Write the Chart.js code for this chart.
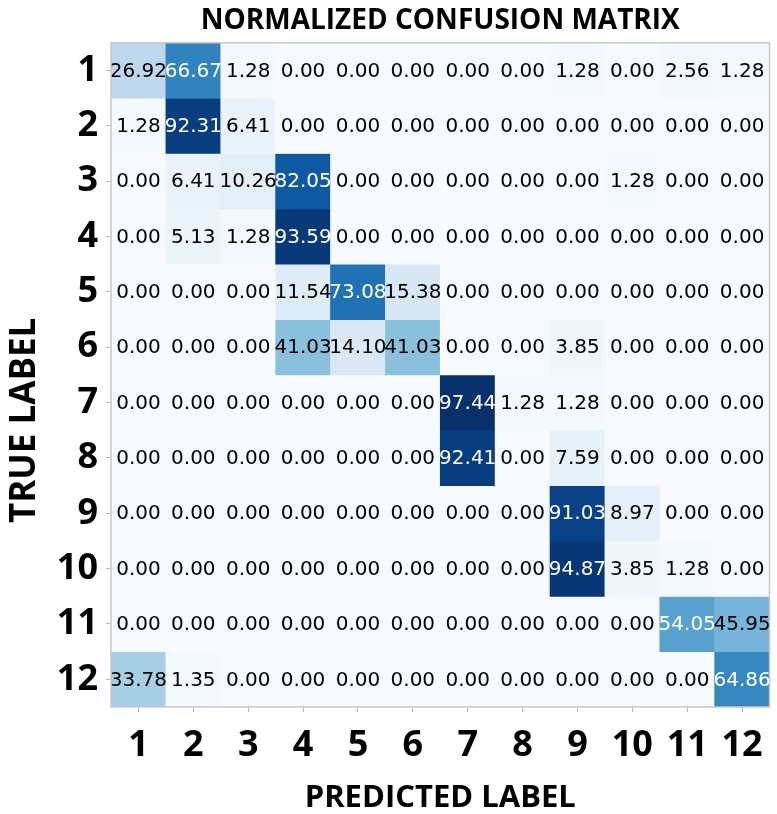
<!DOCTYPE html>
<html>
<head>
<meta charset="utf-8">
<script src="https://cdn.jsdelivr.net/npm/chart.js@4"></script>
<style>
  html, body { margin: 0; padding: 0; background: #fff; }
  #wrap { width: 777px; height: 814px; }
</style>
</head>
<body>
<div id="wrap"><canvas id="cm"></canvas></div>
<script>
// class labels
const predictedLabels = ['1', '2', '3', '4', '5', '6', '7', '8', '9', '10', '11', '12'];
const trueLabels = ['1', '2', '3', '4', '5', '6', '7', '8', '9', '10', '11', '12'];

// normalized confusion matrix (%), one row per true label
const row1  = [26.92, 66.67, 1.28, 0, 0, 0, 0, 0, 1.28, 0, 2.56, 1.28];
const row2  = [1.28, 92.31, 6.41, 0, 0, 0, 0, 0, 0, 0, 0, 0];
const row3  = [0, 6.41, 10.26, 82.05, 0, 0, 0, 0, 0, 1.28, 0, 0];
const row4  = [0, 5.13, 1.28, 93.59, 0, 0, 0, 0, 0, 0, 0, 0];
const row5  = [0, 0, 0, 11.54, 73.08, 15.38, 0, 0, 0, 0, 0, 0];
const row6  = [0, 0, 0, 41.03, 14.10, 41.03, 0, 0, 3.85, 0, 0, 0];
const row7  = [0, 0, 0, 0, 0, 0, 97.44, 1.28, 1.28, 0, 0, 0];
const row8  = [0, 0, 0, 0, 0, 0, 92.41, 0, 7.59, 0, 0, 0];
const row9  = [0, 0, 0, 0, 0, 0, 0, 0, 91.03, 8.97, 0, 0];
const row10 = [0, 0, 0, 0, 0, 0, 0, 0, 94.87, 3.85, 1.28, 0];
const row11 = [0, 0, 0, 0, 0, 0, 0, 0, 0, 0, 54.05, 45.95];
const row12 = [33.78, 1.35, 0, 0, 0, 0, 0, 0, 0, 0, 0, 64.86];
const rows = [row1, row2, row3, row4, row5, row6, row7, row8, row9, row10, row11, row12];

// matplotlib "Blues"
const blues = ['#f7fbff', '#deebf7', '#c6dbef', '#9ecae1', '#6baed6', '#4292c6', '#2171b5', '#08519c', '#08306b'];

function hexToRgb(h) {
  return [parseInt(h.slice(1, 3), 16), parseInt(h.slice(3, 5), 16), parseInt(h.slice(5, 7), 16)];
}

function bluesColor(t) {
  t = Math.max(0, Math.min(1, t));
  const pos = t * (blues.length - 1);
  const i = Math.min(Math.floor(pos), blues.length - 2);
  const f = pos - i;
  const a = hexToRgb(blues[i]), b = hexToRgb(blues[i + 1]);
  const c = a.map((v, k) => Math.round(v + (b[k] - v) * f));
  return `rgb(${c[0]}, ${c[1]}, ${c[2]})`;
}

const allVals = rows.flat();
const vmax = Math.max(...allVals);
const vmin = Math.min(...allVals);
const thresh = (vmax + vmin) / 2;

// one floating-bar dataset per true-label row
const datasets = rows.map((vals, r) => ({
  label: trueLabels[r],
  data: vals.map(() => [r + 0.5, r + 1.5]),
  values: vals,
  backgroundColor: vals.map(v => bluesColor((v - vmin) / (vmax - vmin))),
  borderWidth: 0,
  grouped: false,
  barPercentage: 1,
  categoryPercentage: 1
}));

// numbers inside the cells + frame around plot
const cellText = {
  id: 'cellText',
  afterDatasetsDraw(chart) {
    const ctx = chart.ctx;
    ctx.save();
    ctx.font = '20px "DejaVu Sans"';
    ctx.textAlign = 'center';
    ctx.textBaseline = 'middle';
    chart.data.datasets.forEach((ds, i) => {
      const meta = chart.getDatasetMeta(i);
      meta.data.forEach((el, j) => {
        const v = ds.values[j];
        ctx.fillStyle = v > thresh ? '#ffffff' : '#000000';
        ctx.fillText(v.toFixed(2), el.x, (el.y + el.base) / 2 + 1);
      });
    });
    const a = chart.chartArea;
    ctx.strokeStyle = '#c8c8c8';
    ctx.lineWidth = 1.5;
    ctx.strokeRect(a.left, a.top, a.right - a.left, a.bottom - a.top);
    ctx.restore();
  }
};

const sp = '\u00A0';

new Chart(document.getElementById('cm'), {
  type: 'bar',
  data: { labels: predictedLabels, datasets: datasets },
  options: {
    responsive: true,
    maintainAspectRatio: false,
    animation: false,
    layout: { padding: { left: 0, right: 4, top: 0, bottom: 0 } },
    plugins: {
      legend: { display: false },
      tooltip: { enabled: false },
      title: {
        display: true,
        fullSize: false,
        text: 'NORMALIZED CONFUSION MATRIX',
        color: '#000',
        font: { family: '"Open Sans"', size: 28, weight: 'bold', lineHeight: 1.1 },
        padding: { top: 6, bottom: 6 }
      }
    },
    scales: {
      x: {
        type: 'category',
        offset: true,
        grid: { offset: false, drawOnChartArea: false, drawTicks: true, tickLength: 5, color: '#bbbbbb' },
        border: { display: false },
        ticks: {
          color: '#000',
          padding: 14,
          maxRotation: 0,
          autoSkip: false,
          font: { family: '"Open Sans"', size: 36, weight: 'bold', lineHeight: 1.1 }
        },
        title: {
          display: true,
          text: 'PREDICTED LABEL',
          color: '#000',
          font: { family: '"Open Sans"', size: 31, weight: 'bold', lineHeight: 1 },
          padding: { top: 0, bottom: 0 }
        },
        afterFit(scale) { scale.height = 107; }
      },
      y: {
        type: 'linear',
        min: 0.5,
        max: 12.5,
        reverse: true,
        grid: { drawOnChartArea: false, drawTicks: true, tickLength: 5, color: '#bbbbbb' },
        border: { display: false },
        afterBuildTicks(scale) {
          scale.ticks = trueLabels.map((l, i) => ({ value: i + 1 }));
        },
        ticks: {
          color: '#000',
          padding: 8,
          callback: (v) => trueLabels[Math.round(v) - 1],
          font: { family: '"Open Sans"', size: 36, weight: 'bold', lineHeight: 1.1 }
        },
        title: {
          display: true,
          text: 'TRUE LABEL' + sp.repeat(10),
          color: '#000',
          font: { family: '"Open Sans"', size: 35, weight: 'bold', lineHeight: 1 },
          padding: { top: 8, bottom: 0 }
        },
        afterFit(scale) { scale.width = 111; }
      }
    }
  },
  plugins: [cellText]
});
</script>
</body>
</html>
